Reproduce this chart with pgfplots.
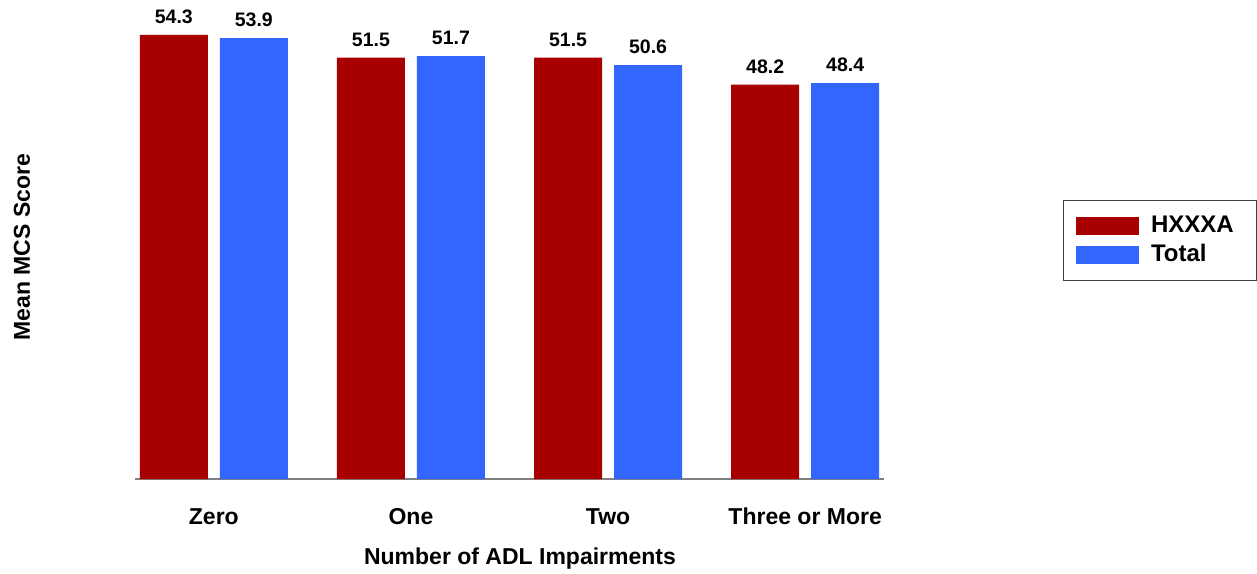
\documentclass[border=0pt]{standalone}
\usepackage{fontspec}
\setmainfont{Liberation Sans}
\usepackage{pgfplots}
\pgfplotsset{compat=1.18}

\definecolor{hxred}{HTML}{A80000}
\definecolor{totblue}{HTML}{3366FF}

\begin{document}
\begin{tikzpicture}
\useasboundingbox (0,0) rectangle (1257pt,573pt);
\begin{axis}[
  at={(135pt,94pt)}, anchor=south west,
  scale only axis,
  width=749pt, height=479pt,
  xmin=-0.4, xmax=3.4,
  ymin=0, ymax=58.55,
  ybar=12pt, bar width=68pt,
  axis x line*=bottom, axis y line*=left,
  y axis line style={draw=none},
  x axis line style={draw=black!50, line width=1.2pt, -},
  ytick=\empty,
  xtick={0,1,2,3},
  xticklabels={Zero,One,Two,Three or More},
  major tick length=0pt,
  xtick style={draw=none},
  xticklabel style={font=\fontsize{23}{27}\selectfont\bfseries, anchor=north, inner sep=0pt, text height=17pt, yshift=-28pt},
  xlabel={Number of ADL Impairments},
  xlabel style={font=\fontsize{23}{27}\selectfont\bfseries, at={(axis description cs:0.514,0)}, anchor=north, inner sep=0pt, text height=17pt, yshift=-68pt},
  ylabel={Mean MCS Score},
  ylabel style={font=\fontsize{23}{27}\selectfont\bfseries, at={(axis description cs:-0.151,0.484)}, anchor=center, rotate=0},
  point meta=explicit symbolic,
  nodes near coords,
  every node near coord/.append style={font=\fontsize{19.5}{23}\selectfont\bfseries, anchor=south, inner sep=0pt, yshift=11pt},
  clip=false,
  legend cell align=left,
  legend image code/.code={\fill[#1,draw=none] (0pt,-9pt) rectangle (63pt,9pt);},
  legend style={at={(axis description cs:1.239,0.5825)}, anchor=north west,
    draw=black!75, line width=1pt,
    font=\fontsize{24}{28}\selectfont\bfseries,
    inner xsep=12pt, inner ysep=11pt,
    nodes={inner sep=4.5pt, text height=17pt, text depth=3pt},
    /tikz/every odd column/.append style={column sep=8pt}},
]
\addplot[fill=hxred, draw=none] coordinates {(0,54.3) [54.3] (1,51.5) [51.5] (2,51.5) [51.5] (3,48.2) [48.2]};
\addplot[fill=totblue, draw=none] coordinates {(0,53.9) [53.9] (1,51.7) [51.7] (2,50.6) [50.6] (3,48.4) [48.4]};
\legend{HXXXA\kern6pt\relax,Total}
\end{axis}
\end{tikzpicture}
\end{document}
